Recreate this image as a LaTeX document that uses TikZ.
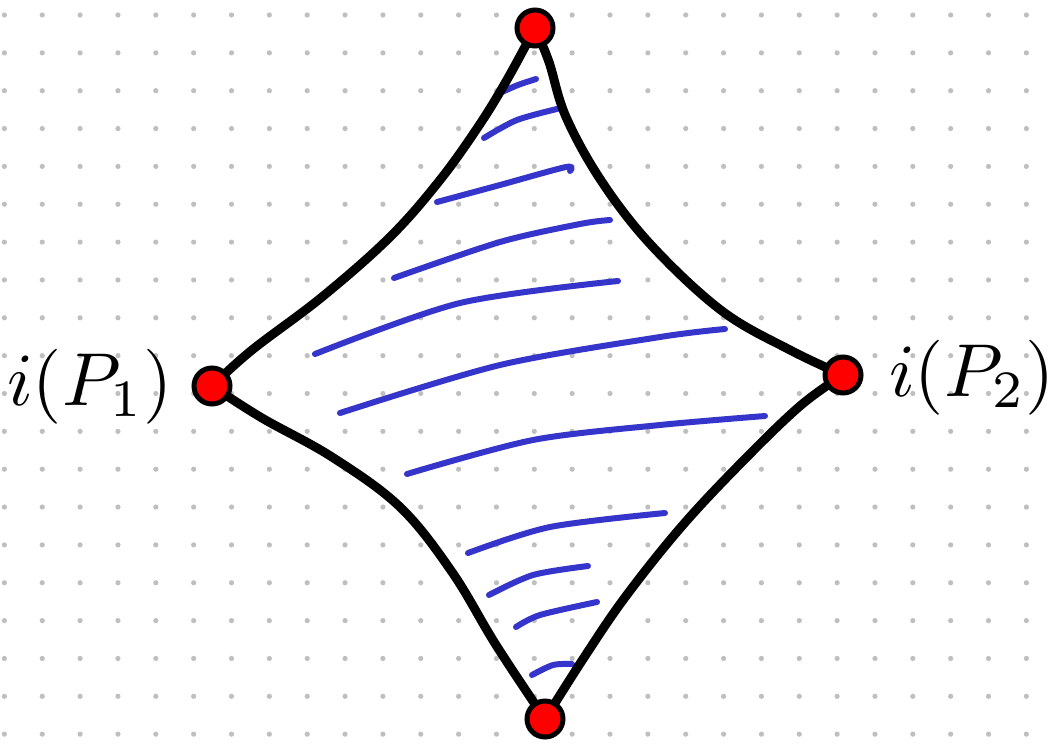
\documentclass[tikz,border=0pt]{standalone}
\usepackage{fontspec}
\begin{document}
\begin{tikzpicture}[x=1pt,y=-1pt,
  griddot/.style={fill=black!25},
  edge/.style={line width=9pt,line cap=round,line join=round,black},
  hatch/.style={line width=6pt,line cap=round,line join=round,draw={rgb,255:red,53;green,53;blue,204}},
  vertex/.style={circle,fill=red,draw=black,line width=5pt,minimum size=36pt,inner sep=0pt},
  lab/.style={inner sep=0pt}]
\useasboundingbox (0,0) rectangle (1059,744);
\fill[white] (0,0) rectangle (1059,744);
% dotted paper
\foreach \i in {0,...,27}{
  \foreach \j in {0,...,19}{
    \fill[griddot] ({4.4+37.85*\i},{15+37.85*\j}) circle (2.6pt);
  }
}
% vertices
\coordinate (top) at (535,28);
\coordinate (left) at (212,386);
\coordinate (right) at (843,375);
\coordinate (bot) at (545,719);
% hatching
\draw[hatch] plot[smooth] coordinates {(502,92) (518,85) (536,79)};
\draw[hatch] plot[smooth] coordinates {(484,138) (517,120) (561,108)};
\draw[hatch] plot[smooth] coordinates {(437,202) (500,185) (566,167) (570,171)};
\draw[hatch] plot[smooth] coordinates {(394,278) (500,242) (580,224) (610,220)};
\draw[hatch] plot[smooth] coordinates {(315,354) (460,303) (618,281)};
\draw[hatch] plot[smooth] coordinates {(340,413) (500,365) (660,337) (725,329)};
\draw[hatch] plot[smooth] coordinates {(407,474) (533,440) (660,425) (765,416)};
\draw[hatch] plot[smooth] coordinates {(468,553) (550,527) (665,513)};
\draw[hatch] plot[smooth] coordinates {(489,595) (533,575) (588,566)};
\draw[hatch] plot[smooth] coordinates {(516,627) (540,615) (597,602)};
\draw[hatch] plot[smooth] coordinates {(532,675) (553,665) (572,664)};
% edges
\draw[edge] plot[smooth,tension=0.6] coordinates {(left) (252,350) (322,297) (390,237) (440,180) (480,124) (508,78) (top)};
\draw[edge] plot[smooth,tension=0.6] coordinates {(top) (549,62) (566,117) (602,182) (652,246) (722,311) (790,350) (right)};
\draw[edge] plot[smooth,tension=0.6] coordinates {(right) (800,406) (742,462) (682,526) (626,596) (585,656) (bot)};
\draw[edge] plot[smooth,tension=0.6] coordinates {(left) (262,418) (332,457) (400,507) (452,572) (496,645) (bot)};
% vertex dots
\node[vertex] (vtop) at (top) {};
\node[vertex] (vleft) at (left) {};
\node[vertex] (vright) at (right) {};
\node[vertex] (vbot) at (bot) {};
% labels
\node[lab,anchor=base] (l1) at (90,405) {\scalebox{7.5}{$i(P_1)$}};
\node[lab,anchor=base] (l2) at (972,396) {\scalebox{7.5}{$i(P_2)$}};
\end{tikzpicture}
\end{document}
